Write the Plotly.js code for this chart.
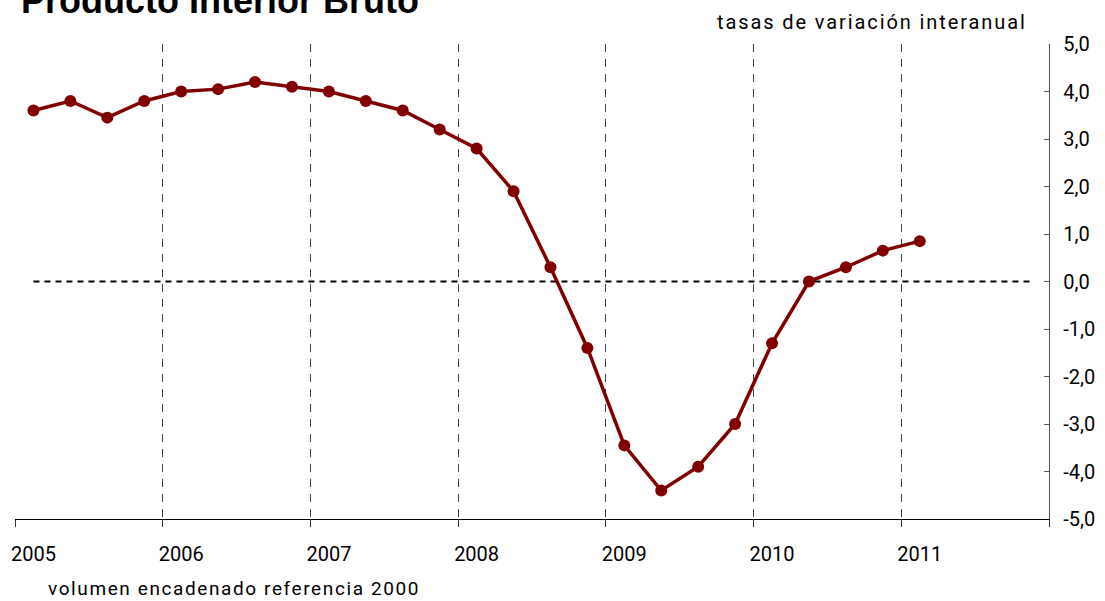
<!DOCTYPE html>
<html>
<head>
<meta charset="utf-8">
<script src="https://cdn.plot.ly/plotly-3.0.1.min.js"></script>
<style>
  html, body { margin: 0; padding: 0; background: #ffffff; }
  #chart { width: 1105px; height: 601px; }
  #chart g.annotation[data-index="1"] text { letter-spacing: 1.9px; }
  #chart g.annotation[data-index="2"] text { letter-spacing: 1.6px; }
</style>
</head>
<body>
<div id="chart"></div>
<script>
// ---- data ----
const title = "Producto Interior Bruto";
const subtitle = "tasas de variación interanual";
const footnote = "volumen encadenado referencia 2000";
const years = [2005, 2006, 2007, 2008, 2009, 2010, 2011];
const yearLabels = ["2005", "2006", "2007", "2008", "2009", "2010", "2011"];
// quarters 2005-T1 ... 2011-T1
const quarters = [
  "2005-T1","2005-T2","2005-T3","2005-T4",
  "2006-T1","2006-T2","2006-T3","2006-T4",
  "2007-T1","2007-T2","2007-T3","2007-T4",
  "2008-T1","2008-T2","2008-T3","2008-T4",
  "2009-T1","2009-T2","2009-T3","2009-T4",
  "2010-T1","2010-T2","2010-T3","2010-T4",
  "2011-T1"
];
const gdp = [
  3.6, 3.8, 3.45, 3.8,
  4.0, 4.05, 4.2, 4.1,
  4.0, 3.8, 3.6, 3.2,
  2.8, 1.9, 0.3, -1.4,
  -3.45, -4.4, -3.9, -3.0,
  -1.3, 0.0, 0.3, 0.65,
  0.85
];
const zeroLineQuarters = ["2005-T1", "2011-T4"];
const zeroLineValues = [0, 0];
const yTicks = [-5, -4, -3, -2, -1, 0, 1, 2, 3, 4, 5];
const yTickLabels = ["-5,0", "-4,0", "-3,0", "-2,0", "-1,0", "0,0", "1,0", "2,0", "3,0", "4,0", "5,0"];

// quarter label -> position on a continuous year axis (centre of quarter)
function qPos(label) {
  const [y, q] = label.split("-T");
  return Number(y) + (Number(q) - 0.5) / 4;
}

const lastYear = years[years.length - 1] + 1;
const boundaries = years.concat([lastYear]);

const traces = [
  {
    x: zeroLineQuarters.map(qPos),
    y: zeroLineValues,
    mode: "lines",
    line: { color: "#000000", width: 2, dash: "6px,5px" },
    hoverinfo: "skip",
    showlegend: false
  },
  {
    x: quarters.map(qPos),
    y: gdp,
    mode: "lines+markers",
    line: { color: "#800000", width: 3.5 },
    marker: { color: "#800000", size: 12 },
    showlegend: false
  },
  {
    // invisible helper for the boundary grid axis
    x: [years[0], lastYear],
    y: [0, 0],
    xaxis: "x2",
    mode: "lines",
    line: { width: 0 },
    opacity: 0,
    hoverinfo: "skip",
    showlegend: false
  }
];

const fontFam = "Roboto, 'Liberation Sans', Arial, sans-serif";

const layout = {
  width: 1105,
  height: 601,
  margin: { l: 15, r: 56, t: 44, b: 82 },
  paper_bgcolor: "#ffffff",
  plot_bgcolor: "rgba(0,0,0,0)",
  showlegend: false,
  font: { family: fontFam, size: 20, color: "#000000" },
  xaxis: {
    range: [years[0], lastYear],
    tickmode: "array",
    tickvals: years.map(y => y + 0.125),
    ticktext: yearLabels,
    ticks: "",
    ticklabelstandoff: 17,
    showgrid: false,
    zeroline: false,
    showline: true,
    linecolor: "#000000",
    linewidth: 1.3,
    tickfont: { family: fontFam, size: 20, color: "#000000" },
    fixedrange: true
  },
  xaxis2: {
    overlaying: "x",
    matches: "x",
    side: "bottom",
    tickmode: "array",
    tickvals: boundaries,
    showticklabels: false,
    ticks: "outside",
    ticklen: 7,
    tickwidth: 1,
    tickcolor: "#333333",
    showgrid: true,
    gridcolor: "#444444",
    gridwidth: 1,
    griddash: "8px,7px",
    zeroline: false,
    showline: false
  },
  yaxis: {
    side: "right",
    range: [-5, 5],
    tickmode: "array",
    tickvals: yTicks,
    ticktext: yTickLabels,
    ticks: "inside",
    ticklen: 5,
    tickcolor: "#555555",
    ticklabelstandoff: 9,
    showgrid: false,
    zeroline: false,
    showline: true,
    linecolor: "#555555",
    linewidth: 1.3,
    tickfont: { family: fontFam, size: 20, color: "#000000" },
    fixedrange: true
  },
  annotations: [
    {
      text: "<b>" + title + "</b>",
      xref: "paper", yref: "paper",
      x: 0, y: 1, xanchor: "left", yanchor: "bottom",
      xshift: 4, yshift: 21,
      showarrow: false,
      font: { family: "'Liberation Sans', Arial, sans-serif", size: 36, color: "#000000" }
    },
    {
      text: subtitle,
      xref: "paper", yref: "paper",
      x: (715 - 15) / 1034, y: 1, xanchor: "left", yanchor: "middle", align: "left",
      yshift: 22,
      showarrow: false,
      font: { family: fontFam, size: 20, color: "#000000" }
    },
    {
      text: footnote,
      xref: "paper", yref: "paper",
      x: 0, y: 0, xanchor: "left", yanchor: "middle", align: "left",
      xshift: 31, yshift: -69,
      showarrow: false,
      font: { family: fontFam, size: 19, color: "#000000" }
    }
  ]
};

Plotly.newPlot("chart", traces, layout, { staticPlot: true, displayModeBar: false });
</script>
</body>
</html>
